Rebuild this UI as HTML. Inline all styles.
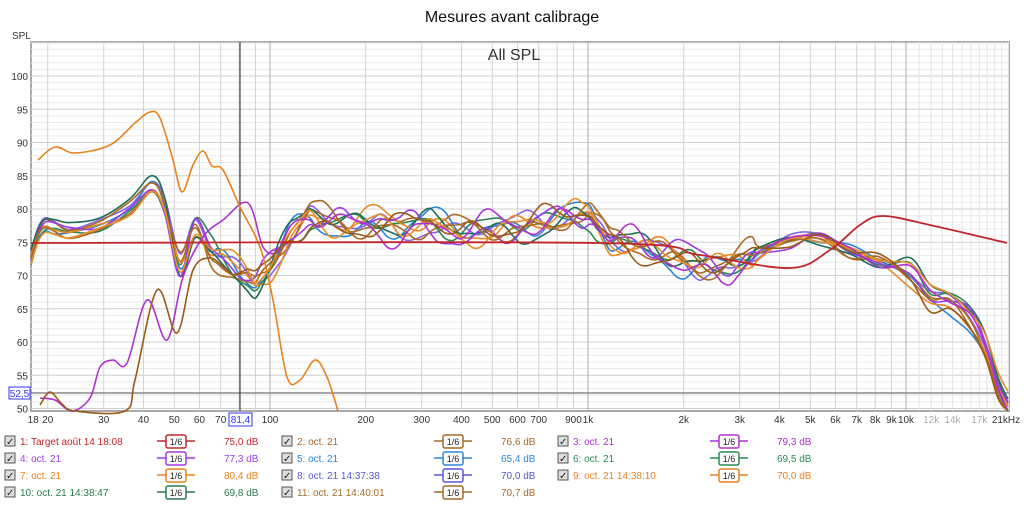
<!DOCTYPE html>
<html><head><meta charset="utf-8"><style>
body{margin:0;background:#fff;width:1024px;height:503px;overflow:hidden;font-family:"Liberation Sans",sans-serif}
</style></head><body>
<svg id="s" width="1024" height="503" xmlns="http://www.w3.org/2000/svg" font-family="Liberation Sans, sans-serif"></svg>
<script>
const S=document.getElementById('s');let h='';
const L=31,R=1009,T=42,B=411;
const fx=f=>270+318*Math.log10(f/100);
const dy=d=>76+(100-d)*6.65;
h+=`<text x="512" y="22" font-size="16" text-anchor="middle" fill="#111">Mesures avant calibrage</text>`;
h+=`<rect x="${L}" y="${T}" width="${R-L}" height="${B-T}" fill="#fff" stroke="#aaa" stroke-width="2"/>`;
for(let d=50;d<=105;d++){let y=dy(d);if(y<T||y>B)continue;h+=`<line x1="${L}" x2="${R}" y1="${y}" y2="${y}" stroke="${d%5?'#ebebeb':'#cfcfcf'}"/>`;}
let fs=[];for(let f=20;f<100;f+=10)fs.push(f);for(let f=100;f<1000;f+=100)fs.push(f);for(let f=1000;f<10000;f+=1000)fs.push(f);for(let f=10000;f<=21000;f+=1000)fs.push(f);
fs.forEach(f=>{let x=fx(f);let c=(f==100||f==1000||f==10000)?'#aaa':(f>10000?'#e4e4e4':'#d2d2d2');h+=`<line x1="${x}" x2="${x}" y1="${T}" y2="${B}" stroke="${c}"/>`;});
h+=`<line x1="${L}" x2="${R}" y1="393" y2="393" stroke="#888" stroke-width="1.5"/>`;
h+=`<line x1="240" x2="240" y1="${T}" y2="${B}" stroke="#222"/>`;
h+=`<text x="12" y="39" font-size="10" fill="#333">SPL</text>`;
for(let d=50;d<=100;d+=5)h+=`<text x="28" y="${dy(d)+4}" font-size="10" text-anchor="end" fill="#333">${d}</text>`;
h+=`<rect x="9" y="387" width="21" height="12" fill="#fff" stroke="#33f"/><text x="19.5" y="397" font-size="10" text-anchor="middle" fill="#33f">52,5</text>`;
const xl=[[18,'18'],[20,'20'],[30,'30'],[40,'40'],[50,'50'],[60,'60'],[70,'70'],[100,'100'],[200,'200'],[300,'300'],[400,'400'],[500,'500'],[600,'600'],[700,'700'],[900,'900'],[1000,'1k'],[2000,'2k'],[3000,'3k'],[4000,'4k'],[5000,'5k'],[6000,'6k'],[7000,'7k'],[8000,'8k'],[9000,'9k'],[10000,'10k'],[12000,'12k',1],[14000,'14k',1],[17000,'17k',1]];
xl.forEach(a=>h+=`<text x="${fx(a[0])}" y="423" font-size="10" text-anchor="middle" fill="${a[2]?'#aaa':'#333'}">${a[1]}</text>`);
h+=`<text x="1006" y="423" font-size="10" text-anchor="middle" fill="#333">21kHz</text>`;
h+=`<rect x="229" y="413" width="23" height="13" fill="#fff" stroke="#33f"/><text x="240.5" y="423" font-size="10" text-anchor="middle" fill="#33f">81,4</text>`;
h+=`<text x="514" y="60" font-size="16" text-anchor="middle" fill="#333">All SPL</text>`;
function path(p,c,w){let d=`M${p[0][0]},${p[0][1]}`;for(let i=0;i<p.length-1;i++){let p0=p[Math.max(0,i-1)],p1=p[i],p2=p[i+1],p3=p[Math.min(p.length-1,i+2)];d+=`C${p1[0]+(p2[0]-p0[0])/6},${p1[1]+(p2[1]-p0[1])/6} ${p2[0]-(p3[0]-p1[0])/6},${p2[1]-(p3[1]-p1[1])/6} ${p2[0]},${p2[1]}`;}return `<path d="${d}" fill="none" stroke="${c}" stroke-width="${w||1.6}"/>`;}
const base=[[31,255],[38,232],[45,222],[55,224],[70,228],[100,222],[130,205],[152,183],[165,205],[180,265],[195,228],[210,250],[225,262],[240,275],[255,285],[270,268],[290,235],[310,215],[330,222],[350,225],[380,222],[400,228],[430,222],[460,232],[490,230],[520,228],[550,222],[575,215],[590,215],[610,240],[640,245],[670,255],[700,265],[730,265],[760,252],[790,240],[820,238],[850,252],[880,262],[910,272],[930,295],[950,300],[970,318],[985,345],[998,385],[1008,405]];
function dense(){let o=[];for(let i=0;i<base.length-1;i++){let [x1,y1]=base[i],[x2,y2]=base[i+1];let n=(x1>=200&&x1<760)?Math.round((x2-x1)/8):1;for(let j=0;j<n;j++){let t=j/n;o.push([x1+(x2-x1)*t,y1+(y2-y1)*t]);}}o.push(base[base.length-1]);return o;}
const DB=dense();
function ser(k,off,amp,c,lf){let p=DB.map(([x,y])=>{let a=x<180?amp*0.3:(x<760?amp:amp*0.5);let n=a*(Math.sin(x*0.09+k*1.7)+0.7*Math.sin(x*0.041+k*2.9)+0.35*Math.sin(x*0.17+k*2.3)+0.5*Math.sin(x*0.019+k*0.7));let o=x<170?off:0;let hf=x>900?(k%3-1)*8:0;return [x,Math.min(y+n+o+hf,411)];});if(lf){p=lf.concat(p.filter(q=>q[0]>lf[lf.length-1][0]+8));}h+=path(p,c);}
ser(1,-2,8,'#8a63e8');
ser(2,4,9,'#2b86d9');
ser(3,8,8,'#2a8a55');
ser(4,0,8,'#b06a20');
ser(5,6,8,'#e88a24');
ser(6,-5,8,'#1e6f5a');
ser(7,3,10,'#9b3be6');
ser(8,7,8,'#a86a28');
ser(9,8,8,'#e8902a',null);
ser(10,-1,10,'#b030d0',[[40,398],[55,400],[72,411],[90,398],[100,367],[113,360],[127,363],[147,300],[167,340],[183,277],[203,237],[223,220],[248,203],[263,247]]);
ser(11,0,9,'#9a5a18',[[40,405],[50,392],[62,404],[75,411],[125,411],[135,380],[157,290],[177,333],[193,270],[210,258]]);
h+=path([[38,160],[55,147],[75,153],[110,145],[135,123],[150,112],[160,118],[173,160],[182,192],[193,165],[203,151],[212,166],[223,170],[240,207],[260,247],[273,300],[287,377],[300,380],[315,360],[327,377],[338,411]],'#e8821e');
h+=path([[31,243],[600,243],[700,255],[790,268],[830,250],[860,225],[883,216],[930,225],[1007,243]],'#c0262a',1.8);
const lg=[[0,0,'1: Target août 14 18:08','75,0 dB','#c0262a'],[1,0,'2: oct. 21','76,6 dB','#a86a28'],[2,0,'3: oct. 21','79,3 dB','#b030d0'],
[0,1,'4: oct. 21','77,3 dB','#9b3be6'],[1,1,'5: oct. 21','65,4 dB','#2b86d9'],[2,1,'6: oct. 21','69,5 dB','#2a8a55'],
[0,2,'7: oct. 21','80,4 dB','#e8821e'],[1,2,'8: oct. 21 14:37:38','70,0 dB','#5a55d8'],[2,2,'9: oct. 21 14:38:10','70,0 dB','#e8821e'],
[0,3,'10: oct. 21 14:38:47','69,8 dB','#2a7a50'],[1,3,'11: oct. 21 14:40:01','70,7 dB','#a86a28']];
lg.forEach(([c,r,t,v,col])=>{let x0=[5,282,558][c],y=441+r*17;
h+=`<rect x="${x0}" y="${y-5}" width="10" height="10" fill="#ddd" stroke="#555"/><text x="${x0+1}" y="${y+4}" font-size="10" fill="#222">✓</text>`;
h+=`<text x="${x0+15}" y="${y+4}" font-size="10" fill="${col}">${t}</text>`;
let bx=x0+152;h+=`<line x1="${bx}" x2="${bx+38}" y1="${y}" y2="${y}" stroke="${col}" stroke-width="1.5"/><rect x="${bx+9}" y="${y-6}" width="20" height="13" rx="2" fill="#fff" stroke="${col}" stroke-width="1.5"/><text x="${bx+19}" y="${y+4}" font-size="9" text-anchor="middle" fill="#222">1/6</text>`;
h+=`<text x="${x0+219}" y="${y+4}" font-size="10" fill="${col}">${v}</text>`;});
S.innerHTML=h;
</script></body></html>
